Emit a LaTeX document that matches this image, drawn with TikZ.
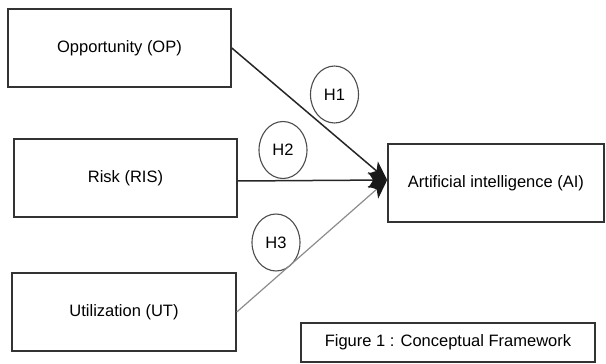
\documentclass[tikz,border=0pt]{standalone}
\usepackage{fontspec}
\setmainfont{Liberation Sans}
\usetikzlibrary{arrows.meta,calc,shapes.geometric}
\begin{document}
\begin{tikzpicture}[x=1pt,y=-1pt,
  box/.style={draw=black!80,line width=1.6pt,rectangle,inner sep=0pt,font=\fontsize{16.5}{18}\selectfont},
  hyp/.style={draw=black!70,line width=1.1pt,ellipse,inner sep=0pt,minimum width=48pt,minimum height=57pt,font=\fontsize{16.5}{18}\selectfont},
  link/.style={line width=1.5pt,draw=black!85,-{Stealth[length=19pt,width=16pt,inset=5pt,color=black!90]}}
]
\useasboundingbox (0,0) rectangle (606,364);
\node[box,minimum width=223pt,minimum height=78pt] (op) at (119.5,48) {Opportunity (OP)};
\node[box,minimum width=223pt,minimum height=78pt] (ris) at (125.5,178) {Risk (RIS)};
\node[box,minimum width=224pt,minimum height=78pt] (ut) at (124,312) {Utilization (UT)};
\node[box,minimum width=216pt,minimum height=78pt] (ai) at (496,183) {Artificial intelligence (AI)};
\node[box,line width=1.3pt,minimum width=294pt,minimum height=39pt] (fig) at (448,342.5) {Figure 1 : Conceptual Framework};
\node[hyp] (h1) at (334.5,94.5) {H1};
\node[hyp] (h2) at (283,150) {H2};
\node[hyp] (h3) at (276,242.5) {H3};
\coordinate (tip) at ($(ai.west)+(0,-3)$);
\draw[link] (op.east) -- (tip);
\draw[link] ($(ris.east)+(0,3)$) -- (tip);
\draw[link,draw=black!45,line width=1.2pt] (ut.east) -- (tip);
\end{tikzpicture}
\end{document}
